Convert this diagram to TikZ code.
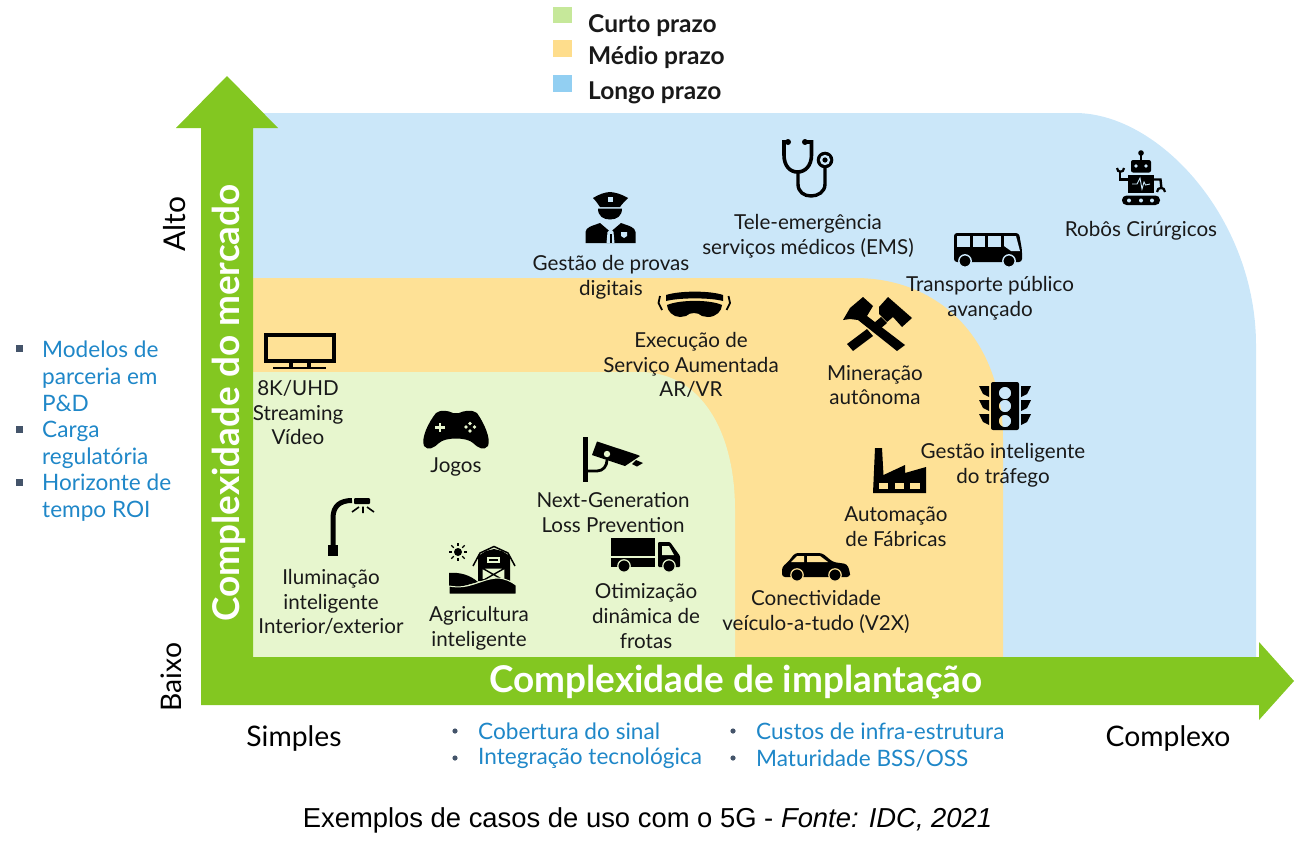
\documentclass[tikz,border=0pt]{standalone}
\usepackage{fontspec}
\setmainfont{Lato}
\newfontfamily\capfont{Liberation Sans}
\definecolor{bluezone}{HTML}{CBE7F9}
\definecolor{orangezone}{HTML}{FEE196}
\definecolor{greenzone}{HTML}{E7F6CE}
\definecolor{arrowgreen}{HTML}{83C721}
\definecolor{linkblue}{HTML}{1F87C8}
\definecolor{legblue}{HTML}{92CFF2}
\definecolor{leggreen}{HTML}{C6E89A}
\definecolor{legorange}{HTML}{FEDD8C}
\definecolor{bulletgrey}{HTML}{44546A}
\tikzset{
  lbl/.style={align=center,inner sep=0pt,font=\fontsize{20.6}{24.7}\selectfont,text=black!90},
  axis/.style={inner sep=0pt,font=\fontsize{28.3}{32}\selectfont,text=black},
  bigaxis/.style={inner sep=0pt,text=white,font=\fontsize{36.9}{40}\selectfont\bfseries},
  legtext/.style={anchor=west,inner sep=0pt,font=\fontsize{24.5}{28}\selectfont\bfseries,text=black!90},
  bluetext/.style={anchor=west,align=left,inner sep=0pt,text=linkblue,font=\fontsize{22.6}{27}\selectfont},
}
\begin{document}
\begin{tikzpicture}[x=1pt,y=-1pt]
\useasboundingbox (0,0) rectangle (1295,851);
% zones
\fill[bluezone] (253,113) -- (1075,113) .. controls (1160,113) and (1256,220) .. (1256,345) -- (1256,657) -- (253,657) -- cycle;
\fill[orangezone] (253,278) -- (855,278) .. controls (940,278) and (1003,340) .. (1003,440) -- (1003,657) -- (253,657) -- cycle;
\fill[greenzone] (253,372) -- (640,372) .. controls (700,372) and (735,430) .. (735,510) -- (735,657) -- (253,657) -- cycle;
% arrows
\fill[arrowgreen] (201,705) -- (201,128) -- (176,128) -- (227,76) -- (278,128) -- (253,128) -- (253,657) -- (1259,657) -- (1259,642) -- (1294,681) -- (1259,720) -- (1259,705) -- cycle;
\node[bigaxis,rotate=90] (ymain) at (229,403) {Complexidade do mercado};
\node[bigaxis] (xmain) at (736,682) {Complexidade de implantação};
% axis labels
\node[axis,rotate=90,font=\fontsize{30}{32}\selectfont] (alto) at (175,224) {Alto};
\node[axis,rotate=90] (baixo) at (171,677) {Baixo};
\node[axis] (simples) at (294,738) {Simples};
\node[axis] (complexo) at (1168,738) {Complexo};
% legend
\fill[leggreen] (553,7) rectangle (572,23);
\fill[legorange] (553,40) rectangle (572,57);
\fill[legblue] (553,75) rectangle (572,92);
\node[legtext] (l1) at (588,25.5) {Curto prazo};
\node[legtext] (l2) at (588,57) {Médio prazo};
\node[legtext] (l3) at (588,92.5) {Longo prazo};
% left list
\foreach \yy in {349,430,483}{\fill[bulletgrey] (16,\yy-4) rectangle (23,\yy+3);}
\node[bluetext] (m1) at (42,376.5) {Modelos de\\parceria em\\P\&D};
\node[bluetext] (m2) at (42,444.5) {Carga\\regulatória};
\node[bluetext] (m3) at (42,498) {Horizonte de\\tempo ROI};
% bottom lists
\foreach \xx/\yy in {455/731,455/758,733/731,733/758}{\fill[bulletgrey] (\xx,\yy) circle (2.6);}
\node[bluetext] (b1) at (478,731.5) {Cobertura do sinal};
\node[bluetext] (b2) at (478,758.5) {Integração tecnológica};
\node[bluetext] (b3) at (756,731.5) {Custos de infra-estrutura};
\node[bluetext] (b4) at (756,758.5) {Maturidade BSS/OSS};
% caption
\node[inner sep=0pt,font=\capfont\fontsize{27.4}{30}\selectfont] (cap) at (647.5,820) {Exemplos de casos de uso com o 5G - \textit{Fonte: IDC, 2021}};
% labels
\node[lbl] (t1) at (611,277) {Gestão de provas\\digitais};
\node[lbl] (t2) at (808,236) {Tele-emergência\\serviços médicos (EMS)};
\node[lbl] (t3) at (990,298) {Transporte público\\avançado};
\node[lbl] (t4) at (1141,231) {Robôs Cirúrgicos};
\node[lbl] (t5) at (691,365) {Execução de\\Serviço Aumentada\\AR/VR};
\node[lbl] (t6) at (875,385) {Mineração\\autônoma};
\node[lbl] (t7) at (298,412.5) {8K/UHD\\Streaming\\Vídeo};
\node[lbl] (t8) at (456,467) {Jogos};
\node[lbl] (t9) at (613,512.5) {Next-Generation\\Loss Prevention};
\node[lbl] (t10) at (1003,465) {Gestão inteligente\\do tráfego};
\node[lbl] (t11) at (896,526.5) {Automação\\de Fábricas};
\node[lbl] (t12) at (331,602) {Iluminação\\inteligente\\Interior/exterior};
\node[lbl] (t13) at (479,628.5) {Agricultura\\inteligente};
\node[lbl] (t14) at (646,616) {Otimização\\dinâmica de\\frotas};
\node[lbl] (t15) at (816,612) {Conectividade\\veículo-a-tudo (V2X)};
% stethoscope
\draw[line width=3.6pt] (787,142) -- (784,142) -- (784,155) .. controls (784,166) and (790,172) .. (797.5,172) .. controls (805,172) and (811.5,166) .. (811.5,155) -- (811.5,142) -- (806,142);
\draw[line width=3.4pt] (798,172) -- (798,184) .. controls (798,192) and (804,196) .. (811,196) .. controls (818,196) and (825,192) .. (825,184) -- (825,166);
\fill (788,142) circle (3); \fill (805,142) circle (3);
\fill (825,160) circle (8.3);
\fill[bluezone] (825,160) circle (5.2);
\fill (825,160) circle (2.6);
% policeman
\fill (593,198) .. controls (600,194) and (604,192.5) .. (610,192) .. controls (616,192.5) and (621,194) .. (628,198) .. controls (625,201) and (622,204) .. (620,207) -- (600,207) .. controls (598,204) and (596,201) .. (593,198) -- cycle;
\fill[bluezone] (608,197) rectangle (612.5,202);
\fill (598,208.5) -- (622,208.5) .. controls (622,216) and (617,219.5) .. (610,219.5) .. controls (603,219.5) and (598,216) .. (598,208.5) -- cycle;
\fill (585.5,243) -- (585.5,232) .. controls (586,227) and (592,226) .. (600,223) -- (610.5,232) -- (621,223) .. controls (629,226) and (635,227) .. (635.5,232) -- (635.5,243) -- cycle;
\fill[bluezone] (606.5,243) -- (607.5,232) -- (610.5,229) -- (613.5,232) -- (614.5,243) -- cycle;
\fill (609.5,243) -- (609.5,234) -- (611.5,234) -- (611.5,243) -- cycle;
\fill[bluezone] (621,232) -- (627,232) -- (627,236) -- (624,238) -- (621,236) -- cycle;
% goggles
\fill (666,295) .. controls (680,290.5) and (710,290.5) .. (723,295) -- (723,301) .. controls (710,297.5) and (680,297.5) .. (666,301) -- cycle;
\fill (667,305) .. controls (680,299.5) and (710,299.5) .. (722,305) .. controls (722,311) and (716,317) .. (708,317) -- (702,316) .. controls (698,312) and (690,312) .. (686,316) -- (680,317) .. controls (673,317) and (667,311) .. (667,305) -- cycle;
\draw[line width=1.8pt] (660,296) -- (658.5,303) -- (662,310);
\draw[line width=1.8pt] (728.5,296) -- (730,303) -- (726.5,310);
% bus
\fill[rounded corners=3pt] (954,233) -- (1019,233) -- (1022,250) -- (1022,262) -- (954,262) -- cycle;
\foreach \xa/\xb in {957/970,973/985,988/1001}{\fill[bluezone] (\xa,236) rectangle (\xb,247);}
\fill[bluezone] (1004,236) -- (1016,236) -- (1020,251) -- (1011,251) -- (1004,246) -- cycle;
\draw[bluezone,line width=1.4pt,fill=black] (965,261) circle (6.2);
\draw[bluezone,line width=1.4pt,fill=black] (1009,261) circle (6.2);
% robot
\fill (1141,153) circle (2.8);
\fill (1140,153) rectangle (1142,160);
\fill[rounded corners=2pt] (1131,160) rectangle (1151,172.5);
\fill[bluezone] (1136,166) circle (1.8);
\fill[bluezone] (1146,166) circle (1.8);
\fill (1128,175) rectangle (1154,193);
\draw[bluezone,line width=.9pt] (1132,184) -- (1137,184) -- (1140,178) -- (1142,189) -- (1144,182) -- (1145.5,185) -- (1150,184);
\draw[line width=2.4pt] (1120,171) -- (1120,179.5) -- (1128,179.5);
\draw[line width=2.4pt] (1154,179.5) -- (1160.5,179.5) -- (1161.5,189);
\draw[line width=2.2pt] (1117,168) .. controls (1117,173) and (1124,173) .. (1124,168);
\draw[line width=2.2pt] (1157,192) .. controls (1157,186.5) and (1165,186.5) .. (1165,192);
\fill[rounded corners=4.5pt] (1122,195.5) rectangle (1160,205);
\foreach \xx in {1129,1141,1152}{\fill[bluezone] (\xx,200.5) circle (2);}
% hammers
\fill (843,320) -- (850,308) -- (863,297) -- (873,306) -- (867,316) -- (905,345) -- (897,351) -- (858,320) -- (850,319) -- cycle;
\fill (879,307) -- (888,297) -- (912,318) -- (902,327) -- (893,317) -- (887,322) -- (879,314) -- cycle;
\fill (881,317) -- (887,323) -- (880,329) -- (874,323) -- cycle;
\fill (867,329) -- (873,336) -- (853,351) -- (847,344) -- cycle;
% TV
\draw[line width=3.6pt] (266,335) rectangle (334,361);
\fill (289,362) rectangle (293,367);
\fill (307,362) rectangle (311,367);
\fill (273,366.5) rectangle (326,369);
% gamepad
\fill (436,413) .. controls (441,409) and (449,411) .. (453,413) -- (459,413) .. controls (463,411) and (472,409) .. (477,413) .. controls (484,423) and (491,438) .. (488,446) .. controls (484,451) and (478,448) .. (473,443) .. controls (467,437) and (445,437) .. (439,443) .. controls (434,448) and (428,451) .. (424,446) .. controls (421,438) and (428,423) .. (436,413) -- cycle;
\draw[greenzone,line width=2.2pt] (435,427.5) -- (444.5,427.5) (440,423) -- (440,432);
\foreach \xx/\yy in {470/423.5,470/431,466/427,474.5/427}{\fill[greenzone] (\xx,\yy) circle (1.9);}
% camera
\fill (582.5,437) rectangle (587.5,482);
\draw[line width=2.8pt] (587,471) -- (597,471) .. controls (603,471) and (607,466) .. (607,460);
\fill (597,441.5) -- (638,455) -- (640,456) -- (625,466) -- (592,455) -- cycle;
\fill[greenzone] (607,454) circle (3.2);
\fill (636,460) -- (643,463) -- (637,466.5) -- (632,464) -- cycle;
% traffic light
\fill[even odd rule] (993,382) -- (1017,382) arc[start angle=-90,end angle=0,radius=2] -- ++(0,44) arc[start angle=0,end angle=90,radius=2] -- (993,430) arc[start angle=90,end angle=180,radius=2] -- ++(0,-44) arc[start angle=180,end angle=270,radius=2] -- cycle
 (1011.2,393) arc[start angle=0,end angle=360,radius=6.2]
 (1011.2,406) arc[start angle=0,end angle=360,radius=6.2]
 (1011.2,421) arc[start angle=0,end angle=360,radius=6.2];
\foreach \yy in {386,400,414}{
  \fill (979,\yy) -- (989,\yy) -- (989,\yy+11) -- (983,\yy+8) -- cycle;
  \fill (1031,\yy) -- (1021,\yy) -- (1021,\yy+11) -- (1027,\yy+8) -- cycle;
}
% street lamp
\fill (327.5,545) rectangle (337.5,556);
\draw[line width=5pt] (333,546) -- (333,518) .. controls (333,506) and (340,500.5) .. (352,500.5);
\fill[rounded corners=1pt] (354,498) rectangle (370,504);
\draw[line width=1.6pt] (352,512) -- (359,507) (363,506.5) -- (363,513) (367,507) -- (374,512);
% farm
\fill (458,552) circle (4);
\foreach \a in {0,45,...,315}{\draw[line width=1.3pt] (458,552) ++(\a:6) -- ++(\a:3.4);}
\fill (449,573) .. controls (460,572) and (470,575) .. (478,582) -- (449,590) -- cycle;
\fill (478,581) -- (478,556) -- (486,551) -- (494,549) -- (502,551) -- (510,556) -- (510,581) -- cycle;
\draw[line width=1.5pt] (473,566) -- (480,553) -- (494,546.5) -- (508,553) -- (515,566);
\fill[greenzone] (487,557) rectangle (500,563);
\fill (489,558.7) rectangle (498,561.3);
\fill[greenzone] (482,568) rectangle (505,579);
\draw[line width=1.4pt] (482,568) rectangle (505,581) (482,568) -- (505,581) (505,568) -- (482,581);
\fill[draw=greenzone,line width=1pt] (449,586) .. controls (470,590) and (480,579) .. (497,578) .. controls (505,578) and (512,582) .. (516,585) -- (516,594) -- (449,594) -- cycle;
\fill[greenzone] (447,585) rectangle (449,595);
\fill[greenzone] (516,582) rectangle (518,595);
\fill[greenzone] (447,594) rectangle (518,595);
% truck
\fill (611,538) rectangle (655,567);
\fill[greenzone] (611,555.5) rectangle (655,557.5);
\fill[rounded corners=1pt] (658,542) -- (670,542) -- (680,556) -- (680,567) -- (658,567) -- cycle;
\fill[greenzone] (662,546) -- (669,546) -- (674,555) -- (662,555) -- cycle;
\draw[greenzone,line width=1.2pt,fill=black] (624,566) circle (6.2);
\draw[greenzone,line width=1.2pt,fill=black] (669,566) circle (6.2);
% factory
\fill (873,493) -- (875,448) -- (882,448) -- (883.5,475) -- (905,465) -- (905,473) -- (926,467) -- (926,493) -- cycle;
\foreach \xa/\xb in {879/888,895/904,910/920}{\fill[orangezone] (\xa,483) rectangle (\xb,489);}
% car
\fill[rounded corners=3pt] (782,577) -- (782,567) -- (788,562) -- (795,553) -- (822,553) -- (833,562) -- (847,564) -- (850,572) -- (850,577) -- cycle;
\fill[orangezone] (804,556) -- (804,562) -- (791,562) -- (797,556) -- cycle;
\fill[orangezone] (807,556) -- (820,556) -- (828,562) -- (807,562) -- cycle;
\draw[orangezone,line width=1.2pt,fill=black] (797,575) circle (6.2);
\draw[orangezone,line width=1.2pt,fill=black] (835,575) circle (6.2);
\end{tikzpicture}
\end{document}
